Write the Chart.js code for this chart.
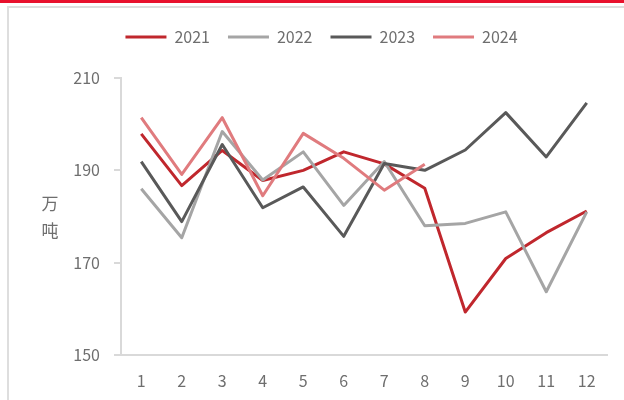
<!DOCTYPE html>
<html>
<head>
<meta charset="utf-8">
<script src="https://cdn.jsdelivr.net/npm/chart.js@4.4.1/dist/chart.umd.min.js"></script>
<style>
  body { margin: 0; width: 624px; height: 400px; overflow: hidden; background: #fff; position: relative; }
  #topline { position: absolute; left: 0; top: 0; width: 624px; height: 3px; background: #e8112d; }
  #frame { position: absolute; left: 7px; top: 6px; width: 660px; height: 440px; border: 2px solid #dedede; }
  #wrap { position: absolute; left: 0; top: 0; width: 624px; height: 400px; }
</style>
</head>
<body>
<div id="topline"></div>
<div id="frame"></div>
<div id="wrap"><canvas id="chartLine"></canvas></div>
<script>
var months = ["1", "2", "3", "4", "5", "6", "7", "8", "9", "10", "11", "12"];
var yTicks = [150, 170, 190, 210];
var unitLabel = ["万", "吨"];

var v2021 = [197.9, 186.7, 194.3, 187.8, 190.0, 194.0, 191.4, 186.1, 159.3, 170.9, 176.5, 181.2];
var v2022 = [186.0, 175.4, 198.4, 187.9, 194.0, 182.4, 191.9, 178.0, 178.5, 181.0, 163.7, 181.0];
var v2023 = [191.9, 178.9, 195.6, 181.9, 186.4, 175.7, 191.5, 190.0, 194.4, 202.5, 192.9, 204.6];
var v2024 = [201.4, 189.1, 201.4, 184.5, 198.0, 192.6, 185.7, 191.3];

var textColor = "#6e6e6e";
var axisColor = "#d9d9d9";
var font = "'Noto Sans CJK SC', 'Noto Sans', sans-serif";

// legend needs more room below it
const legendGap = {
    id: "legendGap",
    beforeLayout(chart) {
        const lg = chart.legend;
        if (lg && !lg._patched) {
            const fit = lg.fit;
            lg.fit = function () {
                fit.call(this);
                this.height += 23;
            };
            lg._patched = true;
        }
    },
};

// stacked unit label left of the y axis
const unitTitle = {
    id: "unitTitle",
    afterDraw(chart) {
        const c = chart.ctx;
        const mid = (chart.chartArea.top + chart.chartArea.bottom) / 2;
        c.save();
        c.font = "17px " + font;
        c.fillStyle = textColor;
        c.textAlign = "center";
        c.textBaseline = "middle";
        c.fillText(unitLabel[0], 50, mid - 13);
        c.fillText(unitLabel[1], 50, mid + 14);
        c.restore();
    },
};

function line(label, data, color, order) {
    return {
        label: label,
        data: data,
        borderColor: color,
        backgroundColor: color,
        borderWidth: 3,
        borderJoinStyle: "round",
        pointRadius: 0,
        tension: 0,
        order: order,
    };
}

const chartLine = new Chart(document.getElementById("chartLine"), {
    type: "line",
    data: {
        labels: months,
        datasets: [
            line("2021", v2021, "#c0272d", 3),
            line("2022", v2022, "#a5a5a5", 2),
            line("2023", v2023, "#595959", 1),
            line("2024", v2024, "#e07b7e", 0),
        ],
    },
    plugins: [legendGap, unitTitle],
    options: {
        responsive: true,
        maintainAspectRatio: false,
        animation: false,
        layout: {
            padding: { top: 11, right: 17, bottom: 0, left: 36 },
        },
        plugins: {
            legend: {
                display: true,
                position: "top",
                labels: {
                    usePointStyle: true,
                    pointStyle: "line",
                    pointStyleWidth: 41,
                    boxHeight: 3,
                    padding: 18,
                    color: textColor,
                    font: { size: 16, family: font },
                    sort: (a, b) => a.datasetIndex - b.datasetIndex,
                },
            },
            tooltip: { enabled: false },
        },
        scales: {
            x: {
                offset: true,
                afterFit: (s) => { s.height = 45; },
                grid: { display: true, drawOnChartArea: false, drawTicks: false, offset: true },
                border: { color: axisColor, width: 2 },
                ticks: {
                    color: textColor,
                    padding: 16,
                    maxRotation: 0,
                    font: { size: 16, family: font },
                },
            },
            y: {
                min: yTicks[0],
                max: yTicks[yTicks.length - 1],
                afterFit: (s) => { s.width = 85; },
                afterBuildTicks: (s) => { s.ticks = yTicks.map((v) => ({ value: v })); },
                grid: {
                    drawOnChartArea: false,
                    drawTicks: true,
                    tickLength: 7,
                    color: axisColor,
                    lineWidth: 2,
                },
                border: { color: axisColor, width: 2 },
                ticks: {
                    color: textColor,
                    padding: 14,
                    font: { size: 16, family: font },
                },
            },
        },
    },
});
</script>
</body>
</html>
